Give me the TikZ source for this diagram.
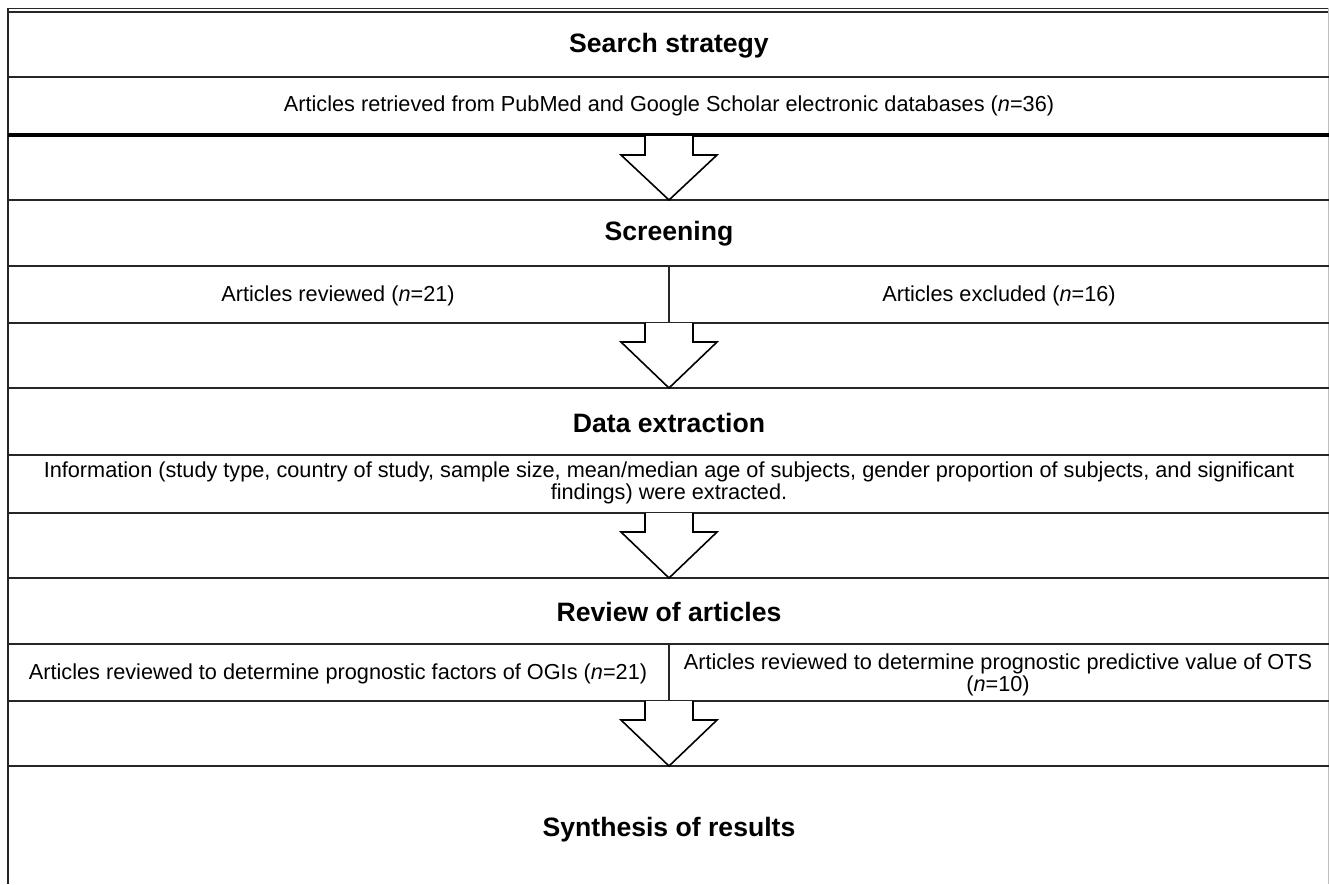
\documentclass[tikz,border=0pt]{standalone}
\usepackage{fontspec}
\setmainfont{Liberation Sans}
\begin{document}
\begin{tikzpicture}[x=1pt,y=-1pt,
  rule/.style={line width=1.8pt, black!85},
  thickrule/.style={line width=3.6pt, black},
  title/.style={font=\fontsize{26.6}{30}\selectfont\bfseries, inner sep=0},
  body/.style={font=\fontsize{21.7}{21.5}\selectfont, inner sep=0, align=center},
  blockarrow/.style={draw, line width=1.6pt, fill=white, line join=miter}]
\useasboundingbox (0,0) rectangle (1329,884);
% frame
\draw[rule] (8,8.5) -- (1329,8.5);
\draw[rule] (8,12) -- (1329,12);
\draw[rule] (8,8) -- (8,884);
\draw[line width=1pt, black!25] (1328,8) -- (1328,884);
% horizontal rules
\draw[rule] (8,77) -- (1329,77);
\draw[thickrule] (8,135) -- (1329,135);
\draw[rule] (8,200) -- (1329,200);
\draw[rule] (8,266) -- (1329,266);
\draw[rule] (8,323) -- (1329,323);
\draw[rule] (8,388) -- (1329,388);
\draw[rule] (8,455) -- (1329,455);
\draw[rule] (8,513) -- (1329,513);
\draw[rule] (8,578) -- (1329,578);
\draw[rule] (8,644) -- (1329,644);
\draw[rule] (8,701) -- (1329,701);
\draw[rule] (8,766) -- (1329,766);
% vertical dividers
\draw[rule] (669,266) -- (669,323);
\draw[rule] (669,644) -- (669,701);
% block arrows
\foreach \t/\b in {136/200, 323/388, 513/578, 701/766}{
  \draw[blockarrow] (645,\t) -- (645,\t+19) -- (621,\t+19) -- (669,\b) -- (717,\t+19) -- (693,\t+19) -- (693,\t);
}
% texts
\node[title] (s1) at (669,45.5) {Search strategy};
\node[body] (t1) at (669,106) {Articles retrieved from PubMed and Google Scholar electronic databases (\textit{n}=36)};
\node[title] (s2) at (669,233.5) {Screening};
\node[body] (t2a) at (338,296) {Articles reviewed (\textit{n}=21)};
\node[body] (t2b) at (999,296) {Articles excluded (\textit{n}=16)};
\node[title] (s3) at (669,422.5) {Data extraction};
\node[body] (t3) at (669,483) {Information (study type, country of study, sample size, mean/median age of subjects, gender proportion of subjects, and significant\\findings) were extracted.};
\node[title] (s4) at (669,611.5) {Review of articles};
\node[body] (t4a) at (338,674) {Articles reviewed to determine prognostic factors of OGIs (\textit{n}=21)};
\node[body] (t4b) at (998,675) {Articles reviewed to determine prognostic predictive value of OTS\\(\textit{n}=10)};
\node[title] (s5) at (669,829.5) {Synthesis of results};
\end{tikzpicture}
\end{document}
